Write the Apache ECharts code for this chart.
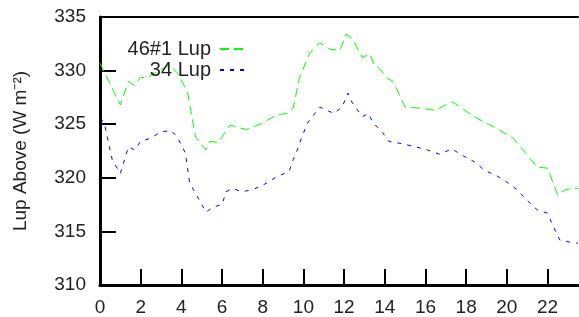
<!DOCTYPE html>
<html>
<head>
<meta charset="utf-8">
<script src="https://cdn.jsdelivr.net/npm/echarts@6/dist/echarts.min.js"></script>
<style>
  body { margin: 0; background: #fff; }
  #chart { width: 579px; height: 317px; }
</style>
</head>
<body>
<div id="chart"></div>
<script>
// hours and values
let greenHours = [0, 1.0, 1.4, 1.7, 2.0, 2.3, 2.8, 3.4, 3.8, 4.3, 4.7, 5.2, 5.4, 5.8, 6.4, 7.2, 8.0, 8.7, 9.2, 9.5, 9.8, 10.3, 10.8, 11.3, 11.8, 12.1, 12.4, 12.9, 13.25, 13.5, 13.75, 14.1, 14.4, 15.0, 15.7, 16.5, 17.3, 17.8, 18.3, 19.0, 19.6, 20.3, 20.8, 21.0, 21.5, 22.0, 22.5, 22.9, 23.2, 23.5]
let greenValues = [330.7, 326.8, 329.0, 328.6, 329.4, 329.3, 329.9, 330.5, 329.8, 328.0, 323.8, 322.6, 323.4, 323.3, 324.9, 324.5, 325.1, 325.9, 326.0, 326.5, 329.3, 331.6, 332.6, 332.0, 331.9, 333.4, 333.0, 331.2, 331.6, 330.5, 330.2, 329.3, 329.0, 326.6, 326.5, 326.3, 327.1, 326.5, 325.8, 325.1, 324.5, 323.7, 322.6, 322.1, 321.0, 320.9, 318.4, 318.9, 319.0, 319.0]

let blueHours = [0, 0.2, 0.6, 1.0, 1.4, 1.7, 2.0, 2.5, 3.0, 3.5, 3.8, 4.2, 4.4, 4.7, 4.9, 5.2, 5.6, 6.0, 6.2, 6.5, 7.0, 7.5, 8.0, 8.7, 9.3, 9.5, 9.7, 9.8, 10.2, 10.8, 11.5, 11.9, 12.2, 12.4, 12.9, 13.2, 13.4, 13.9, 14.2, 14.8, 15.5, 16.1, 16.7, 17.3, 17.8, 18.4, 18.9, 19.5, 20.0, 20.5, 21.0, 21.5, 22.0, 22.3, 22.6, 23.1, 23.5]
let blueValues = [325.5, 325.2, 321.7, 320.4, 322.9, 322.6, 323.4, 323.7, 324.3, 324.4, 323.8, 322.3, 319.6, 318.5, 317.9, 316.8, 317.3, 317.5, 318.7, 319.0, 318.7, 318.9, 319.3, 320.1, 320.6, 321.7, 322.6, 323.2, 325.1, 326.6, 326.0, 326.6, 327.9, 327.0, 325.7, 326.0, 325.2, 324.2, 323.4, 323.2, 322.9, 322.6, 322.2, 322.7, 322.1, 321.5, 320.7, 320.2, 319.6, 318.9, 317.9, 317.0, 316.7, 315.4, 314.2, 314.0, 313.9]

function pairs(xs, ys) {
  return xs.map((x, i) => [x, ys[i]])
}

let font = 'Liberation Sans, Arial, sans-serif'
let legendBase = {
  right: 326,
  align: 'right',
  itemWidth: 27, itemHeight: 10, itemGap: 0,
  itemStyle: { opacity: 0 },
  textStyle: { fontSize: 20, color: '#222', fontFamily: font, padding: [0, 4, 0, 0] }
}

let myChart = echarts.init(document.getElementById('chart'))
myChart.setOption({
  animation: false,
  textStyle: { fontFamily: font },
  grid: { left: 100, right: 1, top: 17, bottom: 32 },
  legend: [
    Object.assign({ data: ['46#1 Lup'], top: 34 }, legendBase),
    Object.assign({ data: ['34 Lup'], top: 55 }, legendBase)
  ],
  xAxis: [
    {
      type: 'value',
      min: 0, max: 23.5, interval: 2,
      splitLine: { show: false },
      axisLine: { lineStyle: { color: '#000', width: 3 } },
      axisTick: { inside: true, length: 16, lineStyle: { color: '#000', width: 2 } },
      axisLabel: { color: '#222', fontSize: 19, margin: 13, showMaxLabel: false }
    },
    {
      type: 'value', position: 'top',
      min: 0, max: 23.5,
      splitLine: { show: false },
      axisLine: { show: true, lineStyle: { color: '#000', width: 2 } },
      axisTick: { show: false },
      axisLabel: { show: false }
    }
  ],
  yAxis: [
    {
      type: 'value',
      min: 310, max: 335, interval: 5,
      name: 'Lup Above (W m⁻²)',
      nameLocation: 'middle',
      nameGap: 70,
      nameTextStyle: { color: '#222', fontSize: 19, fontFamily: font },
      splitLine: { show: false },
      axisLine: { show: true, lineStyle: { color: '#000', width: 3 } },
      axisTick: { inside: true, length: 16, lineStyle: { color: '#000', width: 2 } },
      axisLabel: { color: '#222', fontSize: 19, margin: 14 }
    },
    {
      type: 'value', position: 'right',
      min: 310, max: 335,
      splitLine: { show: false },
      axisLine: { show: true, lineStyle: { color: '#000', width: 1 } },
      axisTick: { show: false },
      axisLabel: { show: false }
    }
  ],
  series: [
    {
      name: '46#1 Lup',
      type: 'line',
      symbol: 'none',
      color: '#00ff00',
      lineStyle: { width: 1, type: [9, 5] },
      data: pairs(greenHours, greenValues)
    },
    {
      name: '34 Lup',
      type: 'line',
      symbol: 'none',
      color: '#0000ff',
      lineStyle: { width: 1, type: [4, 6] },
      data: pairs(blueHours, blueValues)
    }
  ]
})
</script>
</body>
</html>
